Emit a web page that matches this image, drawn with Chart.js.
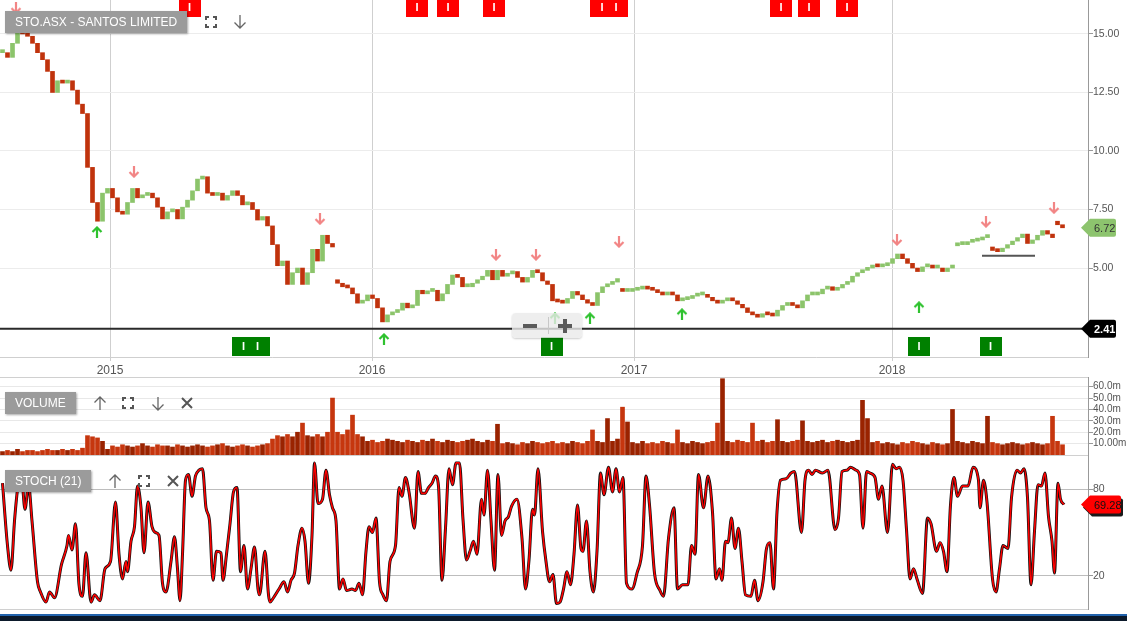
<!DOCTYPE html>
<html>
<head>
<meta charset="utf-8">
<title>STO.ASX - Santos Limited</title>
<script src="https://cdn.jsdelivr.net/npm/chart.js@4.4.1/dist/chart.umd.min.js"></script>
<style>
  body { margin: 0; background: #fff; font-family: "Liberation Sans", Arial, sans-serif; }
  #wrap { position: relative; width: 1127px; height: 621px; overflow: hidden; background: #fff; }
  canvas { position: absolute; left: 0; }
  .hline { position: absolute; left: 0; width: 1088px; height: 1px; background: #d0d0d0; }
  .label { position: absolute; background: #9b9b9b; color: #fff; font-size: 12px; height: 22px; line-height: 22px; padding: 0 10px; box-shadow: 1px 1px 2px rgba(0,0,0,.35); white-space: nowrap; }
  .ico { position: absolute; }
  #zoomCtl { position: absolute; left: 512px; top: 313px; width: 70px; height: 25px; background: rgba(234,234,234,.8); border-radius: 4px; box-shadow: 0 1px 2px rgba(0,0,0,.2); }
  #zoomCtl div { position: absolute; background: #5a5a5a; }
</style>
</head>
<body>
<div id="wrap">
  <div class="hline" style="top:377px"></div>
  <div class="hline" style="top:455px"></div>
  <div class="hline" style="top:609px"></div>
  <canvas id="priceChart" width="1127" height="377" style="top:0"></canvas>
  <canvas id="volumeChart" width="1127" height="78" style="top:377px"></canvas>
  <canvas id="stochChart" width="1127" height="155" style="top:455px"></canvas>

  <div id="zoomCtl">
    <div style="left:11px;top:11px;width:14px;height:4px"></div>
    <div style="left:36px;top:4px;width:1px;height:17px;background:#c8c8c8"></div>
    <div style="left:46px;top:11px;width:14px;height:4px"></div>
    <div style="left:51px;top:6px;width:4px;height:14px"></div>
  </div>

  <div class="label" style="left:5px;top:11px">STO.ASX - SANTOS LIMITED</div>
  <svg class="ico" style="left:205px;top:16px" width="12" height="12"><path d="M1 4V1H4M8 1H11V4M11 8V11H8M4 11H1V8" fill="none" stroke="#555" stroke-width="2"/></svg>
  <svg class="ico" style="left:233px;top:14px" width="14" height="15"><path d="M7 1V14M1.5 8.5L7 14L12.5 8.5" fill="none" stroke="#666" stroke-width="1.3"/></svg>

  <div class="label" style="left:5px;top:392px">VOLUME</div>
  <svg class="ico" style="left:93px;top:396px" width="14" height="15"><path d="M7 14V1M1.5 6.5L7 1L12.5 6.5" fill="none" stroke="#666" stroke-width="1.3"/></svg>
  <svg class="ico" style="left:122px;top:397px" width="12" height="12"><path d="M1 4V1H4M8 1H11V4M11 8V11H8M4 11H1V8" fill="none" stroke="#555" stroke-width="2"/></svg>
  <svg class="ico" style="left:151px;top:396px" width="14" height="15"><path d="M7 1V14M1.5 8.5L7 14L12.5 8.5" fill="none" stroke="#666" stroke-width="1.3"/></svg>
  <svg class="ico" style="left:181px;top:397px" width="12" height="12"><path d="M1 1L11 11M11 1L1 11" fill="none" stroke="#555" stroke-width="2"/></svg>

  <div class="label" style="left:5px;top:470px">STOCH (21)</div>
  <svg class="ico" style="left:108px;top:474px" width="14" height="15"><path d="M7 14V1M1.5 6.5L7 1L12.5 6.5" fill="none" stroke="#666" stroke-width="1.3"/></svg>
  <svg class="ico" style="left:138px;top:475px" width="12" height="12"><path d="M1 4V1H4M8 1H11V4M11 8V11H8M4 11H1V8" fill="none" stroke="#555" stroke-width="2"/></svg>
  <svg class="ico" style="left:167px;top:475px" width="12" height="12"><path d="M1 1L11 11M11 1L1 11" fill="none" stroke="#555" stroke-width="2"/></svg>

  <div style="position:absolute;left:0;top:614px;width:1127px;height:2px;background:#2263ad"></div>
  <div style="position:absolute;left:0;top:616px;width:1127px;height:5px;background:#0c1a2b"></div>
</div>

<script>
// weekly closes, first week = early Aug 2014
const weekCloses = [
    14.2, 14.0, 14.6, 15.2, 15.0, 14.9, 14.6, 14.2, 13.9, 13.4,
    12.5, 13.0, 12.9, 13.0, 12.6, 12.0, 11.6, 9.3, 7.8, 7.0,
    8.2, 8.4, 8.0, 7.4, 7.3, 7.8, 8.4, 8.0, 8.1, 8.2,
    8.0, 7.6, 7.1, 7.4, 7.5, 7.1, 7.6, 7.9, 8.3, 8.8,
    8.9, 8.2, 8.1, 8.2, 7.9, 8.1, 8.3, 8.1, 7.7, 7.8,
    7.5, 7.05, 7.2, 6.8, 6.0, 5.1, 5.3, 4.3, 4.8, 5.0,
    4.3, 4.8, 5.8, 5.3, 6.4, 6.05, 5.9, 4.35, 4.2, 4.15,
    3.9, 3.5, 3.6, 3.85, 3.7, 3.3, 2.7, 3.0, 3.1, 3.2,
    3.5, 3.3, 3.4, 4.05, 3.9, 4.0, 4.05, 3.6, 3.9, 4.3,
    4.7, 4.6, 4.2, 4.2, 4.35, 4.5, 4.65, 4.9, 4.5, 4.9,
    4.65, 4.75, 4.85, 4.6, 4.4, 4.6, 4.9, 4.8, 4.45, 4.3,
    3.6, 3.55, 3.5, 3.7, 4.0, 3.85, 3.65, 3.5, 3.4, 3.95,
    4.2, 4.3, 4.4, 4.55, 4.0, 4.0, 4.05, 4.1, 4.2, 4.1,
    4.05, 3.95, 3.85, 3.95, 3.85, 3.6, 3.65, 3.7, 3.8, 3.85,
    3.85, 3.75, 3.6, 3.5, 3.6, 3.7, 3.6, 3.45, 3.3, 3.1,
    3.0, 2.9, 3.05, 3.0, 2.95, 3.2, 3.4, 3.45, 3.4, 3.3,
    3.6, 3.85, 3.85, 3.9, 4.1, 4.2, 4.05, 4.15, 4.3, 4.4,
    4.65, 4.8, 4.9, 5.0, 5.1, 5.05, 5.1, 5.2, 5.4, 5.6,
    5.4, 5.2, 5.0, 4.85, 5.05, 5.1, 5.0, 5.0, 4.85, 5.0,
    5.1, 6.0, 6.0, 6.1, 6.15, 6.2, 6.3, 6.4, 5.75, 5.7,
    5.85, 6.0, 6.15, 6.3, 6.45, 6.05, 6.2, 6.4, 6.6, 6.45,
    6.3, 6.85, 6.72
];
// weeks that opened on a gap (trading halts / gap downs)
const gapOpens = { 67: 4.5, 124: 4.05, 191: 5.95, 198: 5.9, 211: 7.0 };

// average daily volume per week, millions
const weekVolumes = [
    3, 4, 3, 5, 3, 4, 4, 3, 4, 5, 4, 4, 5, 4, 5, 4, 6,
    17, 16, 15, 12, 5,
    8, 7, 9, 8, 7, 8, 10, 8, 7, 9, 8, 8, 7, 9, 8, 7, 8, 9, 8, 7, 8, 9, 10, 8, 7, 8, 9, 8, 7, 8, 9, 10,
    14, 17, 16, 18, 16, 20, 28, 17, 16, 18, 16, 20,
    50,
    20, 18, 22, 35, 18, 16,
    12, 13, 11, 12, 14, 13, 12, 11, 13, 12, 11, 13, 12, 14, 12, 11, 13, 12, 11, 12, 13, 14, 12, 11, 13, 12,
    27,
    10, 11, 10, 9, 11, 10, 12, 11, 10, 11, 12, 10, 11, 10, 12, 11, 10, 12,
    22, 12, 11, 32, 12, 14, 42, 29,
    11, 10, 12, 10, 11, 10, 12, 11, 10,
    22, 11, 10, 12, 11, 10, 11, 12, 28, 67,
    12, 11, 13, 12, 11, 28, 12, 13, 11, 12, 31, 12, 11, 12, 13, 30,
    12, 11, 12, 13, 11, 12, 13, 12, 11, 12, 13, 48, 32,
    11, 12, 10, 11, 10, 9, 11, 10, 12, 11, 10, 9, 11, 10, 9, 10,
    40, 12, 11, 10, 12, 11, 10, 34,
    11, 10, 9, 10, 11, 10, 9, 10, 11, 10, 9, 10, 34, 12, 9
];

// stochastic (21) turning points: week position and value
const stochWeeks = [
    0.0, 1.0, 1.7, 2.4, 3.1, 3.8, 4.5, 5.2, 5.9, 7.0, 7.6, 8.7, 9.4, 10.4, 11.8, 12.9, 13.2, 13.9, 14.6, 15.3,
    16.0, 16.7, 17.7, 18.4, 19.5, 20.5, 21.6, 22.6, 23.3, 24.0, 24.7, 25.0, 25.7, 26.4, 27.0, 27.7, 28.3, 29.1, 29.9, 30.6,
    31.3, 32.0, 32.7, 33.7, 34.4, 35.0, 35.5, 36.0, 36.6, 37.2, 37.9, 38.6, 39.3, 40.0, 40.7, 41.4, 42.1, 42.8, 43.7, 44.1,
    44.8, 45.5, 46.2, 46.9, 47.6, 48.3, 49.0, 49.7, 50.4, 51.1, 51.4, 52.5, 53.2, 53.5, 54.2, 55.3, 56.3, 57.0, 57.7, 58.4,
    59.1, 59.9, 60.5, 61.2, 61.9, 62.4, 63.1, 64.0, 64.7, 65.4, 66.0, 66.7, 67.4, 68.1, 68.8, 69.9, 70.6, 71.3, 72.0, 72.7,
    73.3, 74.0, 74.7, 75.4, 76.1, 76.8, 77.5, 78.6, 79.3, 79.9, 80.6, 81.3, 82.4, 83.1, 83.8, 84.5, 85.2, 85.9, 86.6, 87.2,
    87.9, 88.6, 89.3, 90.0, 90.7, 91.4, 92.1, 92.8, 93.5, 94.2, 94.9, 95.8, 96.3, 97.0, 97.7, 98.4, 99.1, 99.8, 100.5, 101.2,
    101.8, 102.9, 103.9, 104.6, 105.3, 106.0, 106.4, 107.1,
    108.0, 108.7, 109.4, 110.1, 110.8, 111.5, 112.2, 112.9, 113.6, 114.3, 115.0, 115.7, 116.1, 116.8, 117.5, 118.2, 118.9, 119.6, 120.3, 121.2,
    122.0, 122.7, 123.4, 124.1, 124.8, 125.9, 126.9, 128.0, 128.7, 129.4, 130.4, 131.5, 132.2, 133.2, 134.3, 135.0, 136.0, 137.1, 137.8, 138.5,
    139.2, 140.2, 141.1, 142.0, 142.7, 143.4, 143.9, 144.6, 145.1, 145.8, 146.5, 147.2, 147.9, 148.6, 149.7, 150.4, 151.1, 152.1, 152.8, 153.5,
    154.2, 154.9, 155.6, 156.7, 157.7, 158.4, 159.8, 160.5, 161.2, 161.9, 162.6, 164.0, 165.1, 166.5, 167.2, 167.9, 168.9, 169.6, 170.7, 171.4,
    172.1, 172.8, 173.5, 174.5, 175.2, 175.9, 177.0, 178.0, 178.7, 179.4, 180.1, 180.8, 181.5, 182.2, 182.9, 184.0, 185.0, 185.7, 186.8, 187.5,
    188.2, 188.9, 189.6, 190.3, 191.0, 192.0, 193.1, 194.1, 195.2, 195.5, 196.2, 196.9, 198.0, 198.7, 199.4, 200.1, 201.1, 201.8, 202.9, 203.6,
    204.3, 205.0, 205.7, 206.4, 207.1, 207.8, 208.5, 209.2, 209.9, 210.4, 211.1, 211.6, 212.3
];
const stochValues = [
    84, 41, 24, 58, 82, 88, 66, 83, 58, 16, 9, 2, 9, 5, 28, 41, 48, 38, 56, 14,
    6, 36, 2, 7, 3, 25, 30, 71, 35, 18, 30, 23, 44, 54, 82, 67, 36, 71, 54, 50,
    48, 15, 9, 30, 47, 25, 3, 35, 86, 90, 75, 89, 93, 94, 67, 58, 17, 37, 36, 17,
    35, 56, 78, 81, 23, 41, 11, 25, 40, 11, 7, 37, 7, 2, 5, 11, 16, 9, 17, 22,
    41, 53, 44, 15, 48, 98, 70, 73, 93, 76, 67, 58, 11, 18, 10, 11, 10, 15, 7, 37,
    54, 50, 60, 16, 7, 3, 30, 41, 81, 75, 88, 78, 53, 92, 77, 77, 81, 84, 89, 82,
    17, 53, 94, 83, 98, 98, 59, 31, 37, 44, 35, 73, 62, 93, 58, 24, 90, 48, 58, 61,
    68, 73, 46, 11, 31, 66, 62, 94,
    51, 30, 16, 21, 1, 2, 11, 23, 14, 35, 69, 39, 37, 58, 23, 9, 37, 91, 76, 95,
    78, 94, 78, 88, 15, 11, 22, 41, 89, 69, 22, 10, 6, 46, 67, 11, 14, 14, 41, 35,
    90, 67, 89, 64, 18, 25, 17, 44, 43, 60, 39, 53, 30, 7, 6, 17, 3, 16, 39, 43,
    11, 64, 86, 87, 91, 92, 50, 86, 93, 90, 93, 91, 93, 52, 60, 92, 93, 95, 93, 90,
    53, 92, 91, 88, 73, 82, 50, 97, 94, 95, 86, 52, 18, 25, 18, 8, 60, 56, 37, 43,
    37, 23, 69, 88, 75, 82, 82, 95, 86, 67, 86, 71, 18, 9, 25, 41, 39, 74, 93, 91,
    94, 74, 14, 51, 83, 82, 91, 61, 44, 22, 84, 73, 69.28
];

const yearTicks = [21.5, 73.9, 126.3, 177.9];
const yearLabels = ['2015', '2016', '2017', '2018'];
const priceTicks = [5, 7.5, 10, 12.5, 15];
const volumeTicks = [10, 20, 30, 40, 50, 60];
const stochTicks = [20, 80];

// signal arrows (week, price level of the arrow)
const sellWeeks = [2.7, 26.3, 63.5, 98.7, 106.7, 123.3, 178.9, 196.7, 210.3];
const sellLevels = [16.1, 9.1, 7.09, 5.56, 5.56, 6.11, 6.2, 6.97, 7.56];
const buyWeeks = [18.9, 76.3, 110.5, 117.5, 135.9, 183.3];
const buyLevels = [6.54, 1.97, 2.86, 2.86, 3.03, 3.33];

// "I" event flags
const topEventWeeks = [37.4, 82.9, 89.1, 98.3, 121.3, 155.7, 161.3, 168.9];
const topEventCounts = [1, 1, 1, 1, 2, 1, 1, 1];
const bottomEventWeeks = [49.6, 109.8, 183.3, 197.6];
const bottomEventCounts = [2, 1, 1, 1];

const lastPrice = 6.72;
const lowLine = 2.41;
const lastStoch = 69.28;
const supportLevel = 5.53, supportFrom = 195.9, supportTo = 206.5;

Chart.defaults.font.family = '"Liberation Sans", Arial, sans-serif';
Chart.defaults.font.size = 12;
Chart.defaults.color = '#444';

const upColor = '#8cc46b';
const downColor = '#c0330d';
const axisFont = { size: 10.5 };

// build candle bars (open = previous close unless a gap open is known)
const candleData = [];
const candleColors = [];
for (let i = 0; i < weekCloses.length; i++) {
    let open = gapOpens[i] != undefined ? gapOpens[i] : (i > 0 ? weekCloses[i - 1] : weekCloses[i]);
    candleData.push({ x: i, y: [open, weekCloses[i]] });
    candleColors.push(weekCloses[i] >= open ? upColor : downColor);
}

const volumeData = [];
const volumeColors = [];
for (let i = 0; i < weekVolumes.length; i++) {
    volumeData.push({ x: i, y: weekVolumes[i] });
    volumeColors.push(candleColors[i] == upColor ? '#9a2300' : '#c6360e');
}

const stochData = stochWeeks.map((w, i) => ({ x: w, y: stochValues[i] }));

const makeArrow = (color, up) => {
    const c = document.createElement('canvas');
    c.width = 12; c.height = 12;
    const g = c.getContext('2d');
    g.strokeStyle = color; g.lineWidth = 2.2;
    g.beginPath();
    if (up) {
        g.moveTo(6, 12); g.lineTo(6, 1.5);
        g.moveTo(1.5, 6); g.lineTo(6, 1.5); g.lineTo(10.5, 6);
    } else {
        g.moveTo(6, 0); g.lineTo(6, 10.5);
        g.moveTo(1.5, 6); g.lineTo(6, 10.5); g.lineTo(10.5, 6);
    }
    g.stroke();
    return c;
};

const fixAxis = (s) => { s.width = 39; s.paddingTop = 0; s.paddingBottom = 0; };

const xScale = (show) => ({
    type: 'linear', min: -0.5, max: 217.1, display: show, offset: false,
    afterBuildTicks: (s) => { s.ticks = yearTicks.map(v => ({ value: v })); },
    afterFit: (s) => { if (show) s.height = 20; s.paddingLeft = 0; s.paddingRight = 0; },
    grid: { color: '#cfcfcf', tickLength: 4, tickColor: '#cfcfcf', offset: false },
    border: { color: '#cfcfcf' },
    ticks: { padding: 2, color: '#555', maxRotation: 0, callback: (v, i) => yearLabels[i] }
});

const baseOptions = {
    responsive: false, animation: false, devicePixelRatio: 1,
    layout: { padding: 0, autoPadding: false },
    plugins: { legend: { display: false }, tooltip: { enabled: false } }
};

const drawTag = (ctx, y, text, fill, textColor, right, bold, shadow) => {
    const path = () => {
        ctx.beginPath();
        ctx.moveTo(1081, y);
        ctx.lineTo(1090, y - 9);
        ctx.lineTo(right - 2, y - 9);
        ctx.quadraticCurveTo(right, y - 9, right, y - 7);
        ctx.lineTo(right, y + 7);
        ctx.quadraticCurveTo(right, y + 9, right - 2, y + 9);
        ctx.lineTo(1090, y + 9);
        ctx.closePath();
    };
    ctx.save();
    if (shadow) {
        ctx.translate(2, 3);
        path(); ctx.fillStyle = '#1a1a1a'; ctx.fill();
        ctx.translate(-2, -3);
    }
    path(); ctx.fillStyle = fill; ctx.fill();
    ctx.fillStyle = textColor;
    ctx.font = (bold ? 'bold ' : '') + '11px "Liberation Sans", Arial, sans-serif';
    ctx.textAlign = 'left'; ctx.textBaseline = 'middle';
    ctx.fillText(text, 1094, y + 1);
    ctx.restore();
};

const drawFlags = (ctx, xs, weeks, counts, top, fill) => {
    weeks.forEach((w, i) => {
        const cx = xs.getPixelForValue(w);
        const bw = counts[i] == 2 ? 38 : 22;
        ctx.fillStyle = fill;
        ctx.fillRect(Math.round(cx - bw / 2), top, bw, 19);
        ctx.fillStyle = '#fff';
        ctx.font = 'bold 11px "Liberation Sans", Arial, sans-serif';
        ctx.textAlign = 'center'; ctx.textBaseline = 'middle';
        if (counts[i] == 2) {
            ctx.fillText('I', cx - 7, top + 10);
            ctx.fillText('I', cx + 7, top + 10);
        } else {
            ctx.fillText('I', cx, top + 10);
        }
    });
};

const priceOverlay = {
    id: 'priceOverlay',
    beforeDatasetsDraw(chart) {
        const { ctx, scales: { x, y } } = chart;
        ctx.save();
        const ly = y.getPixelForValue(lowLine);
        ctx.strokeStyle = '#2a2a2a'; ctx.lineWidth = 2;
        ctx.beginPath(); ctx.moveTo(0, ly); ctx.lineTo(1082, ly); ctx.stroke();
        const sy = y.getPixelForValue(supportLevel);
        ctx.strokeStyle = '#555';
        ctx.beginPath(); ctx.moveTo(x.getPixelForValue(supportFrom), sy); ctx.lineTo(x.getPixelForValue(supportTo), sy); ctx.stroke();
        ctx.restore();
    },
    afterDatasetsDraw(chart) {
        const { ctx, scales: { x } } = chart;
        ctx.save();
        drawFlags(ctx, x, topEventWeeks, topEventCounts, -2, '#ff0000');
        drawFlags(ctx, x, bottomEventWeeks, bottomEventCounts, 337, '#008000');
        ctx.restore();
    },
    afterDraw(chart) {
        const { ctx, scales: { y } } = chart;
        drawTag(ctx, y.getPixelForValue(lastPrice), lastPrice.toFixed(2), '#8dc46e', '#333', 1116, false, false);
        drawTag(ctx, y.getPixelForValue(lowLine), lowLine.toFixed(2), '#000', '#fff', 1116, true, false);
    }
};

const stochOverlay = {
    id: 'stochOverlay',
    afterDraw(chart) {
        const { ctx, scales: { y } } = chart;
        drawTag(ctx, y.getPixelForValue(lastStoch), lastStoch.toFixed(2), '#ff0000', '#111', 1121, false, true);
    }
};

new Chart(document.getElementById('priceChart'), {
    data: {
        datasets: [
            { type: 'bar', data: candleData, backgroundColor: candleColors, barThickness: 4, minBarLength: 3, order: 2 },
            { type: 'scatter', data: sellWeeks.map((w, i) => ({ x: w, y: sellLevels[i] })), pointStyle: makeArrow('#f28585', false), order: 1 },
            { type: 'scatter', data: buyWeeks.map((w, i) => ({ x: w, y: buyLevels[i] })), pointStyle: makeArrow('#2fc22f', true), order: 1 }
        ]
    },
    options: {
        ...baseOptions,
        scales: {
            x: xScale(true),
            y: {
                position: 'right', min: 1.2, max: 16.45,
                afterBuildTicks: (s) => { s.ticks = priceTicks.map(v => ({ value: v })); },
                afterFit: fixAxis,
                grid: { color: '#ececec', tickLength: 5, tickColor: '#999' },
                border: { color: '#999' },
                ticks: { padding: 0, color: '#555', font: axisFont, callback: (v) => Number(v).toFixed(2) }
            }
        }
    },
    plugins: [priceOverlay]
});

new Chart(document.getElementById('volumeChart'), {
    type: 'bar',
    data: { datasets: [{ data: volumeData, backgroundColor: volumeColors, barThickness: 4 }] },
    options: {
        ...baseOptions,
        scales: {
            x: xScale(false),
            y: {
                position: 'right', min: 0, max: 68.5,
                afterBuildTicks: (s) => { s.ticks = volumeTicks.map(v => ({ value: v })); },
                afterFit: fixAxis,
                grid: { color: '#e8e8e8', tickLength: 5, tickColor: '#999' },
                border: { color: '#999' },
                ticks: { padding: 0, color: '#555', font: { size: 10 }, autoSkip: false, callback: (v) => v == 10 ? '10.00m' : Number(v).toFixed(1) + 'm' }
            }
        }
    }
});

new Chart(document.getElementById('stochChart'), {
    type: 'line',
    data: {
        datasets: [
            { data: stochData, borderColor: '#ff0000', borderWidth: 1.6, pointRadius: 0, cubicInterpolationMode: 'monotone', order: 0 },
            { data: stochData, borderColor: '#111', borderWidth: 3, pointRadius: 0, cubicInterpolationMode: 'monotone', order: 1 }
        ]
    },
    options: {
        ...baseOptions,
        scales: {
            x: xScale(false),
            y: {
                position: 'right', min: -3.45, max: 103.45,
                afterBuildTicks: (s) => { s.ticks = stochTicks.map(v => ({ value: v })); },
                afterFit: fixAxis,
                grid: { color: '#bdbdbd', tickLength: 5, tickColor: '#999' },
                border: { color: '#999' },
                ticks: { padding: 0, color: '#555', font: axisFont }
            }
        }
    },
    plugins: [stochOverlay]
});
</script>
</body>
</html>
